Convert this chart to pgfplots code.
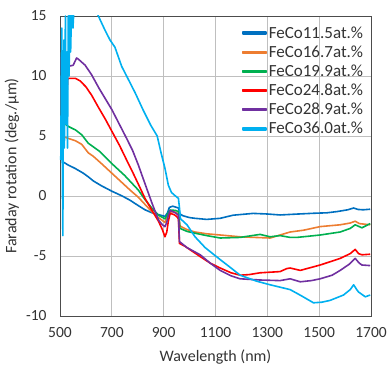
\documentclass[border=0pt]{standalone}
\usepackage{fontspec}
\setmainfont{Carlito}
\usepackage{pgfplots}
\pgfplotsset{compat=1.18}
\definecolor{cA}{HTML}{0070C0}
\definecolor{cB}{HTML}{ED7D31}
\definecolor{cC}{HTML}{00B050}
\definecolor{cD}{HTML}{FF0000}
\definecolor{cE}{HTML}{7030A0}
\definecolor{cF}{HTML}{00B0F0}
\definecolor{gridc}{HTML}{BFBFBF}
\definecolor{txt}{HTML}{333333}
\begin{document}
\begin{tikzpicture}
\begin{axis}[
  scale only axis, width=311pt, height=300pt,
  xmin=500, xmax=1700, ymin=-10, ymax=15,
  xtick={500,700,...,1700}, ytick={-10,-5,0,5,10,15},
  major tick length=0pt,
  grid=major, grid style={gridc, line width=0.8pt},
  axis line style={black!70, line width=0.9pt},
  /pgf/number format/assume math mode=true,
  /pgf/number format/set thousands separator={},
  tick label style={font=\fontsize{15.5}{18}\selectfont, text=txt},
  xticklabel style={yshift=-8pt},
  yticklabel style={xshift=-10pt},
  label style={font=\fontsize{16}{19}\selectfont, text=txt},
  xlabel={Wavelength (nm)}, ylabel={Faraday rotation (deg./μm)},
  xlabel style={yshift=-5pt}, ylabel style={yshift=0pt},
  legend style={at={(rel axis cs:0.985,0.975)}, anchor=north east, draw=none, fill=none,
    font=\fontsize{17}{20}\selectfont, text=txt, row sep=2pt, inner sep=1pt},
  legend cell align=left,
  legend image code/.code={\fill (0pt,-1pt) rectangle (23pt,1pt);},
  every axis plot/.append style={line width=1.6pt, line join=round},
]
\addplot[cA] coordinates {
(515,2.8)(530,2.6)(558,2.3)(590,1.9)(609,1.6)(629,1.25)(660,0.85)(700,0.4)(740,0.0)(770,-0.35)(802,-0.8)(828,-1.15)(855,-1.4)(880,-1.55)(905,-1.7)(915,-1.4)(922,-0.95)(935,-0.85)(950,-0.95)(957,-1.0)(963,-1.5)(975,-1.65)(1000,-1.8)(1021,-1.86)(1066,-1.95)(1118,-1.86)(1168,-1.6)(1245,-1.45)(1300,-1.5)(1349,-1.58)(1420,-1.5)(1478,-1.44)(1530,-1.4)(1568,-1.3)(1610,-1.15)(1633,-1.0)(1650,-1.12)(1670,-1.15)(1697,-1.1)
};
\addlegendentry{FeCo11.5at.\%}
\addplot[cB] coordinates {
(520,4.9)(532,4.8)(560,4.6)(584,4.3)(609,3.6)(629,3.3)(660,2.7)(700,1.9)(740,1.1)(770,0.5)(802,-0.1)(828,-0.7)(854,-1.3)(880,-1.8)(905,-2.2)(915,-1.7)(922,-1.35)(940,-1.3)(957,-1.5)(963,-2.5)(990,-2.8)(1021,-3.0)(1066,-3.15)(1118,-3.25)(1195,-3.4)(1250,-3.45)(1311,-3.5)(1349,-3.25)(1388,-3.0)(1440,-2.85)(1504,-2.55)(1581,-2.4)(1620,-2.25)(1639,-2.1)(1655,-2.3)(1697,-2.4)
};
\addlegendentry{FeCo16.7at.\%}
\addplot[cC] coordinates {
(520,6.0)(532,5.8)(560,5.5)(584,5.1)(609,4.4)(654,3.7)(700,2.7)(750,1.7)(802,0.5)(828,-0.3)(854,-1.0)(880,-1.6)(905,-1.9)(915,-1.5)(925,-1.17)(945,-1.2)(957,-1.3)(963,-2.7)(990,-2.95)(1021,-3.1)(1066,-3.3)(1118,-3.5)(1195,-3.45)(1272,-3.2)(1311,-3.4)(1349,-3.3)(1388,-3.45)(1414,-3.45)(1460,-3.35)(1504,-3.25)(1581,-3.0)(1620,-2.7)(1639,-2.4)(1665,-2.65)(1697,-2.3)
};
\addlegendentry{FeCo19.9at.\%}
\addplot[cD] coordinates {
(505,9.0)(507,5.5)(509,7.5)(512,6)(518,9.6)(524,9.3)(527,8.5)(530,9.8)(545,9.8)(560,9.8)(577,9.6)(600,9.1)(622,8.4)(648,7.4)(675,6.4)(700,5.4)(730,4.2)(757,3.0)(780,2.0)(802,1.0)(828,-0.2)(855,-1.2)(880,-2.1)(895,-2.8)(905,-3.4)(912,-3.0)(918,-2.1)(925,-1.45)(940,-1.55)(950,-1.7)(957,-1.9)(961,-3.95)(983,-4.2)(1010,-4.6)(1041,-5.05)(1080,-5.6)(1118,-6.0)(1160,-6.4)(1195,-6.6)(1230,-6.55)(1272,-6.4)(1349,-6.3)(1375,-6.05)(1388,-6.0)(1427,-6.2)(1504,-5.75)(1581,-5.2)(1620,-4.8)(1639,-4.45)(1652,-4.8)(1665,-4.9)(1697,-4.85)
};
\addlegendentry{FeCo24.8at.\%}
\addplot[cE] coordinates {
(505,11.6)(507,9)(509,11.8)(511,8.5)(514,10)(517,9.5)(520,10.2)(532,10.8)(551,10.9)(564,11.5)(571,11.4)(597,10.9)(622,10.1)(650,9.0)(700,7.2)(757,4.8)(780,3.8)(802,2.6)(830,0.9)(855,-0.6)(880,-2.0)(895,-2.4)(905,-2.55)(912,-2.2)(918,-1.6)(925,-1.2)(945,-1.4)(957,-1.6)(961,-3.8)(990,-4.3)(1041,-4.9)(1080,-5.6)(1118,-6.2)(1160,-6.65)(1195,-6.9)(1272,-7.0)(1349,-7.05)(1388,-6.9)(1427,-7.15)(1470,-7.05)(1504,-6.9)(1550,-6.6)(1581,-6.2)(1615,-5.7)(1639,-5.2)(1655,-5.6)(1665,-5.75)(1697,-5.8)
};
\addlegendentry{FeCo28.9at.\%}
\addplot[cF] coordinates {
(503,3)(505,10)(507,14)(509,2)(511,-3.3)(513,8)(515,13)(517,4)(519,11)(521,15)(524,6)(527,12)(529,4)(532,15)(535,10)(538,15.5)(541,12)(545,16)(550,14)(556,16.5)(565,17)(600,17.5)(630,16)(648,15)(674,13.8)(693,13)(712,12.4)(725,11.6)(738,10.8)(757,10.0)(790,8.6)(820,7.2)(850,5.9)(875,5.0)(890,3.6)(905,2.3)(918,0.9)(930,0.3)(940,0.1)(957,-0.2)(961,-1.0)(965,-1.9)(990,-2.4)(1021,-3.4)(1060,-4.3)(1118,-5.3)(1160,-6.0)(1195,-6.6)(1259,-7.1)(1311,-7.4)(1388,-7.8)(1430,-8.3)(1478,-8.9)(1510,-8.85)(1542,-8.7)(1594,-8.25)(1620,-7.8)(1633,-7.4)(1645,-7.8)(1652,-8.0)(1678,-8.4)(1697,-8.25)
};
\addlegendentry{FeCo36.0at.\%}
\end{axis}
\pgfresetboundingbox
\path ([shift={(-60pt,-51pt)}]current axis.south west) rectangle ([shift={(17pt,16pt)}]current axis.north east);
\end{tikzpicture}
\end{document}
